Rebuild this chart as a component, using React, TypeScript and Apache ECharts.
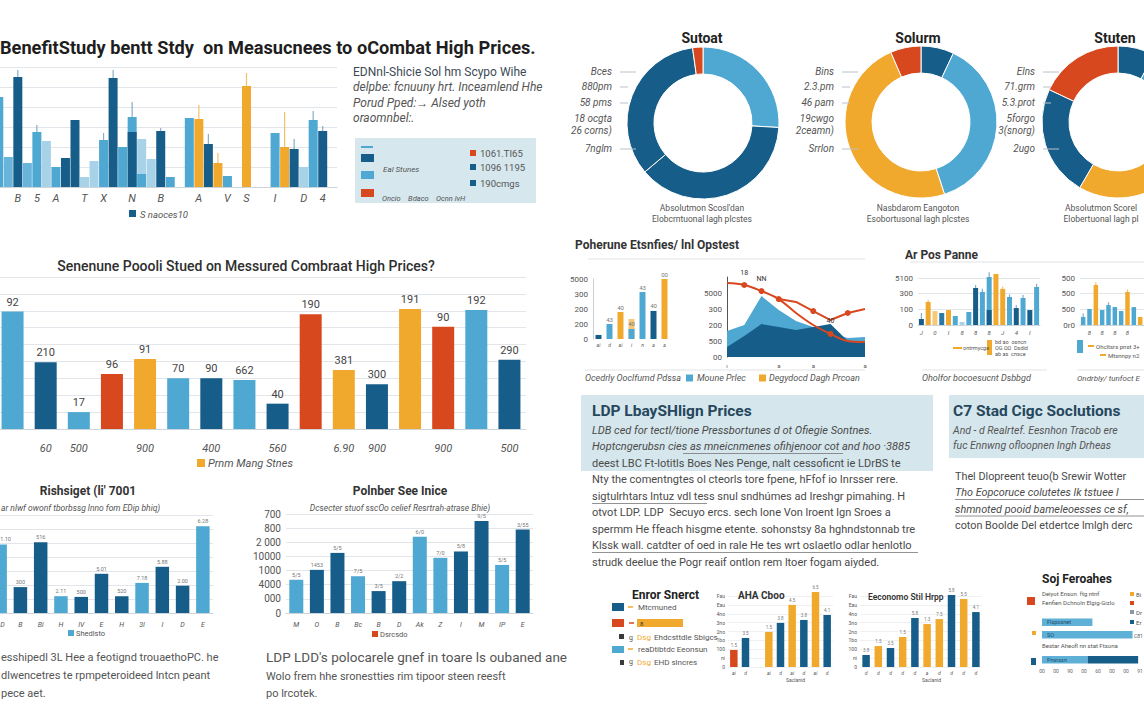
import React, { useEffect, useRef } from "react";
import * as echarts from "echarts";

const FONT = "Roboto, 'Open Sans', 'Noto Sans', sans-serif";
const COL: Record<string, string> = {
  D: "#175d89", L: "#4ea8d2", M: "#68b4da", P: "#a8d2e7", O: "#f1a92d", Q: "#f5c979", R: "#d8481f", T: "#2a78a4",
};

// ---- Chart 1 (top-left, many bars) ----
const c1Cats = ["", "", "B", "", "5", "", "A", "", "", "T", "", "X", "", "", "N", "", "", "B", "", "", "", "A", "", "", "V", "", "S", "", "", "I", "", "", "D", "", "4", ""];
const c1Vals = [90, 30, 110, 24, 55, 46, 20, 29, 67, 10, 26, 47, 109, 40, 55, 13, 28, 56, 10, null, 69, 68, 43, 24, 11, null, 101, null, null, 54, 40, 38, 20, 67, 56, null];
const c1Cols = "LMDMLPLDDPPLDLDLPDL-LODOL-O--LODPLD-";
const c1Back = [null, null, null, null, null, null, null, null, null, null, null, null, null, null, 70, 48, null, null, null, null, null, null, null, null, null, null, null, null, null, null, null, null, null, null, null, null];
const c1BackCols = "LLLLLLLLLLLLLLLPLLLLLLLLLLLLLLLLLLLL";
const c1Whisk = [null, null, 117, null, 62, null, null, null, null, null, null, 54, 117, null, 85, null, null, 59, null, null, null, 82, 53, 34, null, null, 114, null, null, null, 75, 48, null, 76, 61, null];

// ---- Chart 2 (middle-left) ----
const c2Cats = ["", "60", "500", "", "900", "", "400", "", "560", "", "6.90", "900", "", "900", "", "500"];
const c2Vals = [139, 79, 20, 65, 83, 60, 60, 58, 30, 136, 70, 53, 142, 121, 141, 82];
const c2Cols = "LDLROLDLDRODORLD";
const c2Labels = ["92", "210", "17", "96", "91", "70", "90", "662", "40", "190", "381", "300", "191", "90", "192", "290"];

// ---- Chart 3 (bottom-left 1) ----
const c3Cats = ["D", "B", "Bi", "H", "IV", "E", "H", "3I", "I", "D", "E"];
const c3Vals = [490, 185, 505, 120, 115, 280, 120, 215, 330, 195, 620];
const c3Cols = "LDDLDDDLDDL";
const c3Labels = ["1.10", "300", "516", "2.11", "500", "5.01", "520", "7.18", "5.88", "2.00", "6.28"];

// ---- Chart 4 (bottom-left 2) ----
const c4Cats = ["M", "O", "B", "Bc", "B", "D", "Ak", "Z", "I", "M", "IP", "E"];
const c4Vals = [235, 305, 425, 260, 155, 225, 540, 390, 435, 650, 340, 590];
const c4Cols = "LDDLDDLLDDLD";
const c4Labels = ["5/5", "1453", "5/5", "7/5", "3/5", "2/2", "6/0", "7/0", "5/8", "9/5", "5/5", "3/55"];
const c4YLabels = ["0", "000", "4000", "1000", "10000", "2 000", "800", "700"];

// ---- Donuts ----
const d1Vals = [26, 38, 34, 2.2];
const d1Cols = "LDDR";
const d2Vals = [7, 38, 48.5, 6.5];
const d2Cols = "DLOR";
const d3Vals = [7.8, 25.6, 25, 23.6, 18];
const d3Cols = "DLODR";
const d1Labels = ["Bces", "880pm", "58 pms", "18 ocgta", "26 corns)", "7nglm"];
const d2Labels = ["Bins", "2.3.pm", "46 pam", "19cwgo", "2ceamn)", "Srrlon"];
const d3Labels = ["Elns", "71.grm", "5.3.prot", "5forgo", "3(snorg)", "2ugo"];

// ---- Chart A (small bars) ----
const aCats = ["ai", "d", "ai", "i", "n", "a", "a"];
const aVals = [27, 100, 180, 67, 313, 187, 400];
const aCols = "DLOLLDO";
const aBack = [null, null, null, 133, null, null, null];
const aLabels = ["", "43", "40", "40", "43", "40", "00"];
const aYLabels = ["0", "200", "200", "300", "5000"];

// ---- Chart B (areas + lines) ----
const bCats = ["ı", "", "", "a", "", "a", "", "", "a"];
const bLight = [162, 200, 381, 294, 225, 187, 150, 119, 125];
const bDark = [62, 131, 206, 187, 169, 187, 206, 100, 94];
const bRed1 = [462, 450, 412, 362, 275, 200, 144, 100, 94];
const bRed2 = [null, null, null, 362, 344, 287, 231, 275, 300];
const bRed1Marks = [false, true, true, true, false, false, true, false, false];
const bRed2Marks = [false, false, false, false, false, true, false, true, false];
const bRed1Labels = ["", "18", "NN", "", "7.8", "", "40", "", ""];
const bYLabels = ["00", "500", "200", "300", "5000", ""];

// ---- Chart C / D ----
const cCats = ["J", "", "0", "", "I", "", "8", "", "8", "", "8", "", "J", "", "4", "", "I", ""];
const cVals = [42, 162, 98, 84, 105, 63, 21, 91, 260, 232, 105, 358, 253, 197, 119, 190, 105, 267];
const cCols = "DOQTOLPLDLDOOLDLDL";
const cBack = [null, null, null, null, null, null, null, null, null, null, 337, null, null, null, null, null, null, null];
const cWhisk = [85, 175, null, null, null, null, null, null, 280, 255, 370, null, 270, 215, 140, 210, null, 290];
const cYLabels = ["0", "100", "300", "5100"];
const dCats = ["", "8", "", "8", "", "8", "", "8", "", "", "", ""];
const dVals = [56, 112, 281, 105, 140, 126, 98, 232, 126, 56, 140, 84];
const dCols = "LLOLLLLOLOLL";
const dWhisk = [80, null, 300, null, 160, null, null, 250, null, null, null, null];
const dYLabels = ["0r0", "500", "500", "500"];

// ---- Chart E / F / G (bottom-right) ----
const eCats = ["ai", "d", "", "ai", "d", "ai", "d", "ai", "d"];
const eVals = [192, 327, null, 395, 497, 700, 530, 845, 586];
const eCols = "RD-ODODOD";
const eLabels = ["1.5", "3.5", "", "1.5", "3.8", "4.5", "3.8", "6.5", "4.1"];
const eYLabels = ["0", "ni", "100", "1bo", "2no", "3no", "4no", "Eau", "Fau"];
const fCats = ["d", "d", "d", "d", "d", "a", "d", "d", "d", "d"];
const fVals = [135, 236, 214, 338, 552, 484, 540, 811, 766, 619];
const fCols = "DODODOODOD";
const fLabels = ["3.8", "1.5", "3.5", "1.5", "5.8", "1.3", "7.5", "5.8", "5.5", "4.1"];
const gCats = ["a", "b", "c", "d"];
const gLight = [54, 97, null, 49];
const gDark = [null, null, null, 54];
const gBarText = ["Flsposnet", "SO", "", "Pnsrssn"];
const gXLabels = ["00", "00", "90", "00", "60", "00", "00", "91"];

// ---- Text blocks ----
const ldpLines = [
  "LDB ced for tectl/tione Pressbortunes d ot Ofiegie Sontnes.",
  "Hoptcngerubsn cies as mneicnmenes ofihjenoor cot and hoo ·3885",
  "deest LBC Ft-lotitls Boes Nes Penge, nalt cessoficnt ie LDrBS te",
  "Nty the comentngtes ol cteorls tore fpene, hFfof io Inrsser rere.",
  "sigtulrhtars lntuz vdl tess snul sndhúmes ad Ireshgr pimahing. H",
  "otvot LDP. LDP  Secuyo ercs. sech lone Von lroent lgn Sroes a",
  "spermm He ffeach hisgme etente. sohonstsy 8a hghndstonnab tre",
  "Klssk wall. catdter of oed in rale He tes wrt oslaetlo odlar henlotlo",
  "strudk deelue the Pogr reaif ontlon rem ltoer fogam aiyded.",
];
const ldpItalic = [true, true, false, false, false, false, false, false, false];
const c7Lines = [
  "Thel Dlopreent teuo(b Srewir Wotter",
  "Tho Eopcoruce colutetes lk tstuee l",
  "shmnoted pooid bameleoesses ce sf,",
  "coton Boolde Del etdertce lmlgh derc",
];
const para1 = [
  "esshipedl 3L Hee a feotignd trouaethoPC. he",
  "dlwencetres te rpmpeteroideed lntcn peant",
  "pece aet.",
];

const barData = (vals: (number | null)[], cols: string) =>
  vals.map((v, i) => (v == null ? "-" : { value: v, itemStyle: { color: COL[cols[i]] || COL.L } }));

function T(x: number, y: number, text: string, size: number, o: any = {}) {
  return {
    type: "text", x, y, z: 20, silent: true,
    style: {
      text, fontSize: size, fontFamily: FONT, fill: o.fill || "#555",
      fontWeight: o.w || "normal", fontStyle: o.i ? "italic" : "normal",
      textAlign: o.a || "left", align: o.a || "left",
      textVerticalAlign: "middle", verticalAlign: "middle",
    },
  };
}
function Rc(x: number, y: number, w: number, h: number, fill: string, z = 5) {
  return { type: "rect", z, silent: true, shape: { x, y, width: w, height: h }, style: { fill } };
}
function Ln(x1: number, y1: number, x2: number, y2: number, stroke: string, lw = 1) {
  return { type: "line", z: 6, silent: true, shape: { x1, y1, x2, y2 }, style: { stroke, lineWidth: lw } };
}

function buildOption() {
  const grids: any[] = [], xs: any[] = [], ys: any[] = [], series: any[] = [];
  const add = (g: any, x: any, y: any) => {
    const i = grids.length;
    grids.push({ ...g, containLabel: false, outerBoundsMode: "none" });
    xs.push({ ...x, gridIndex: i });
    ys.push({ ...y, gridIndex: i });
    return i;
  };
  const catAxis = (cats: string[], fs: number, m: number, line = true, extraLabel: any = {}) => ({
    type: "category", data: cats, axisTick: { show: false },
    axisLine: { show: line, lineStyle: { color: "#cdd4da" } },
    axisLabel: { interval: 0, hideOverlap: false, fontSize: fs, fontStyle: "italic", color: "#555", margin: m, fontFamily: FONT, ...extraLabel },
    splitLine: { show: false },
  });
  const valAxis = (max: number, interval: number, labels: string[] | null, fs = 8, m = 4, split = true, extra: any = {}) => ({
    type: "value", min: 0, max, interval,
    axisLine: { show: false }, axisTick: { show: false },
    splitLine: { show: split, lineStyle: { color: "#e2e6ea", width: 1 } },
    axisLabel: labels
      ? { show: true, fontSize: fs, color: "#555", margin: m, fontFamily: FONT, formatter: (v: number) => labels[Math.round(v / interval)] ?? "" }
      : { show: false },
    ...extra,
  });
  const bar = (i: number, vals: (number | null)[], cols: string, width: number, extra: any = {}) => ({
    type: "bar", xAxisIndex: i, yAxisIndex: i, data: barData(vals, cols), barWidth: width, barGap: "-100%",
    silent: true, clip: false, animation: false, ...extra,
  });
  const whiskers = (i: number, vals: (number | null)[], back: (number | null)[] | null, tops: (number | null)[], cols: string) => {
    const data: any[] = [];
    const colors: string[] = [];
    tops.forEach((t, k) => {
      if (t != null) {
        const b = Math.max(vals[k] ?? 0, back ? back[k] ?? 0 : 0);
        data.push([k, b, t]);
        colors.push(cols[k] === "O" || cols[k] === "Q" ? "#f2c069" : "#86adc8");
      }
    });
    return {
      type: "custom", xAxisIndex: i, yAxisIndex: i, data, silent: true, clip: false, z: 3,
      renderItem: (params: any, api: any) => {
        const a = api.coord([api.value(0), api.value(1)]);
        const b = api.coord([api.value(0), api.value(2)]);
        return { type: "line", shape: { x1: a[0], y1: a[1], x2: b[0], y2: b[1] }, style: { stroke: colors[params.dataIndex], lineWidth: 1.2 } };
      },
    };
  };
  const tinyLabel = (arr: string[], fs = 5.5) => ({
    show: true, position: "top", distance: 2, fontSize: fs, color: "#777", fontFamily: FONT,
    formatter: (p: any) => arr[p.dataIndex] ?? "",
  });

  // Chart 1
  const g1 = add({ left: -6, top: 67, width: 343, height: 120 }, catAxis(c1Cats, 11, 6), valAxis(120, 20, null));
  series.push(bar(g1, c1Back, c1BackCols, 9), bar(g1, c1Vals, c1Cols, 9), whiskers(g1, c1Vals, c1Back, c1Whisk, c1Cols));

  // Chart 2
  const g2 = add({ left: -4, top: 277, width: 530, height: 152 }, catAxis(c2Cats, 11, 14), valAxis(180, 20, null));
  series.push(bar(g2, c2Vals, c2Cols, 22, {
    label: { show: true, position: "top", distance: 4, fontSize: 11, color: "#444", fontFamily: FONT, formatter: (p: any) => c2Labels[p.dataIndex] },
  }));

  // Chart 3
  const g3 = add({ left: -10, top: 515, width: 223, height: 98 }, catAxis(c3Cats, 7, 8, true, { alignMinLabel: "left" }), valAxis(700, 100, null));
  const s3: any = bar(g3, c3Vals, c3Cols, 13.5, { label: tinyLabel(c3Labels) });
  s3.data[0].label = { align: "left" };
  series.push(s3);

  // Chart 4
  const g4 = add({ left: 286, top: 514, width: 247, height: 99 }, catAxis(c4Cats, 7, 8), valAxis(700, 100, c4YLabels, 10, 5));
  series.push(bar(g4, c4Vals, c4Cols, 14, { label: tinyLabel(c4Labels) }));

  // Donuts
  const pie = (center: number[], vals: number[], cols: string) => ({
    type: "pie", center, radius: [49, 76], startAngle: 90, clockwise: true, silent: true,
    label: { show: false }, labelLine: { show: false },
    itemStyle: { borderColor: "#ffffff", borderWidth: 1 },
    data: vals.map((v, i) => ({ value: v, itemStyle: { color: COL[cols[i]] } })),
  });
  series.push(pie([703, 123], d1Vals, d1Cols), pie([921, 122], d2Vals, d2Cols), pie([1118, 122], d3Vals, d3Cols));

  // Chart A
  const g5 = add({ left: 593, top: 279, width: 77, height: 60 }, catAxis(aCats, 5, 3, false),
    valAxis(400, 100, aYLabels, 8, 5, false, { axisLine: { show: true, lineStyle: { color: "#c8cfd5" } } }));
  series.push(bar(g5, aBack, "QQQQQQQ", 6), bar(g5, aVals, aCols, 6, { label: tinyLabel(aLabels, 6) }));

  // Chart B
  const g6 = add({ left: 727, top: 277, width: 138, height: 80 },
    { type: "category", boundaryGap: false, data: bCats, axisTick: { show: false }, axisLine: { show: false },
      axisLabel: { interval: 0, fontSize: 6, color: "#555", margin: 5, fontFamily: FONT } },
    valAxis(500, 100, bYLabels, 8, 5, false, { axisLine: { show: true, lineStyle: { color: "#555" } } }));
  series.push(
    { type: "line", xAxisIndex: g6, yAxisIndex: g6, data: bLight, symbol: "none", lineStyle: { width: 0 }, areaStyle: { color: COL.L, opacity: 1 }, z: 2, silent: true },
    { type: "line", xAxisIndex: g6, yAxisIndex: g6, data: bDark, symbol: "none", lineStyle: { width: 0 }, areaStyle: { color: COL.D, opacity: 1 }, z: 3, silent: true },
    { type: "line", xAxisIndex: g6, yAxisIndex: g6, smooth: 0.35, z: 4, silent: true, clip: false,
      lineStyle: { color: COL.R, width: 2 }, itemStyle: { color: COL.R },
      data: bRed1.map((v, i) => ({ value: v, symbol: bRed1Marks[i] ? "circle" : "none", symbolSize: 6,
        label: { show: !!bRed1Labels[i], position: "top", distance: 6, fontSize: 7, color: "#333", formatter: bRed1Labels[i] } })) },
    { type: "line", xAxisIndex: g6, yAxisIndex: g6, z: 4, silent: true, clip: false,
      lineStyle: { color: COL.R, width: 2 }, itemStyle: { color: COL.R },
      data: bRed2.map((v, i) => (v == null ? "-" : { value: v, symbol: bRed2Marks[i] ? "circle" : "none", symbolSize: 6 })) },
  );

  // Chart C
  const g7 = add({ left: 918, top: 278, width: 122, height: 47 }, catAxis(cCats, 6, 4), valAxis(330, 110, cYLabels, 8, 5));
  series.push(bar(g7, cBack, "LLLLLLLLLLLLLLLLLL", 5), bar(g7, cVals, cCols, 5), whiskers(g7, cVals, cBack, cWhisk, cCols));

  // Chart D
  const g8 = add({ left: 1080, top: 278, width: 76, height: 47 }, catAxis(dCats, 6, 4), valAxis(330, 110, dYLabels, 8, 5));
  series.push(bar(g8, dVals, dCols, 4.5), whiskers(g8, dVals, null, dWhisk, dCols));

  // Chart E
  const g9 = add({ left: 728, top: 596, width: 105, height: 71 }, catAxis(eCats, 5, 3, false),
    valAxis(800, 100, eYLabels, 5, 3, true, { splitLine: { show: true, lineStyle: { color: "#eef0f2" } } }));
  series.push(bar(g9, eVals, eCols, 7.5, { label: tinyLabel(eLabels, 4.5) }));

  // Chart F
  const g10 = add({ left: 860, top: 596, width: 122, height: 71 }, catAxis(fCats, 5, 3, false),
    valAxis(800, 100, eYLabels, 5, 3, true, { splitLine: { show: true, lineStyle: { color: "#eef0f2" } } }));
  series.push(bar(g10, fVals, fCols, 7.5, { label: tinyLabel(fLabels, 4.5) }));

  // Chart G (horizontal)
  const g11 = add({ left: 1042, top: 616, width: 98, height: 50 },
    { type: "value", min: 0, max: 105, interval: 15, axisLine: { show: false }, axisTick: { show: false }, splitLine: { show: false },
      axisLabel: { fontSize: 5, color: "#666", margin: 2, fontFamily: FONT, formatter: (v: number) => gXLabels[Math.round(v / 15)] ?? "" } },
    { type: "category", inverse: true, data: gCats, show: false });
  series.push(
    { type: "bar", xAxisIndex: g11, yAxisIndex: g11, stack: "g", barWidth: 7.5, silent: true,
      data: gLight.map((v) => (v == null ? "-" : v)), itemStyle: { color: "#5eb0d6" },
      label: { show: true, position: "insideLeft", fontSize: 5.5, color: "#1d4e6e", fontFamily: FONT, formatter: (p: any) => gBarText[p.dataIndex] } },
    { type: "bar", xAxisIndex: g11, yAxisIndex: g11, stack: "g", barWidth: 7.5, silent: true,
      data: gDark.map((v) => (v == null ? "-" : v)), itemStyle: { color: COL.D } },
  );

  // Graphic texts
  const el: any[] = [];
  // top-left
  el.push(T(0, 47, "BenefitStudy bentt Stdy  on Measucnees to oCombat High Prices.", 18.2, { w: "bold", fill: "#1e1e1e" }));
  el.push(T(353, 72, "EDNnl-Shicie Sol hm Scypo Wihe", 12, { fill: "#3d4a55" }));
  el.push(T(353, 87, "delpbe: fcnuuny hrt. Inceamlend Hhe", 12, { i: true }));
  el.push(T(353, 103, "Porud Pped:→ Alsed yoth", 12, { i: true }));
  el.push(T(353, 118, "oraomnbel:.", 12, { i: true }));
  el.push(Rc(355, 138, 181, 65, "#d6e7ee", 1));
  el.push(Ln(361, 147, 373, 147, COL.L, 2));
  el.push(Rc(361, 154, 13, 8, COL.D), Rc(361, 171, 13, 8, COL.L), Rc(361, 189, 13, 8, COL.R));
  el.push(T(383, 169, "Eal Stunes", 8, { i: true }));
  el.push(T(382, 198, "Oncio    Bdaco    Ocnn lvH", 7.5, { i: true }));
  el.push(Rc(470, 150, 6, 6, COL.R), T(480, 153, "1061.TI65", 9.5));
  el.push(Rc(470, 164, 6, 6, COL.D), T(480, 167, "1096 1195", 9.5));
  el.push(Rc(470, 180, 6, 6, COL.D), T(480, 183, "190cmgs", 9.5));
  el.push(Rc(129, 210, 7, 7, COL.D), T(140, 214, "S naoces10", 9.5, { i: true }));
  // middle-left
  el.push(T(246, 266, "Senenune Poooli Stued on Messured Combraat High Prices?", 14, { a: "center", fill: "#2e2e2e", w: 500 }));
  el.push(Rc(197, 459, 8, 8, COL.O), T(208, 463, "Prnm Mang Stnes", 11, { i: true }));
  // bottom-left
  el.push(T(88, 491, "Rishsiget (li' 7001", 12, { a: "center", w: "bold", fill: "#333" }));
  el.push(T(1, 508, "ar nlwf owonf tborbssg lnno fom EDip bhiq)", 8.5, { i: true }));
  el.push(Rc(68, 630, 6, 6, COL.L), T(76, 633, "Shedlsto", 7.5));
  para1.forEach((s, k) => el.push(T(1, 657 + k * 18, s, 11, { fill: "#555" })));
  el.push(T(400, 491, "Polnber See Inice", 12, { a: "center", w: "bold", fill: "#333" }));
  el.push(T(400, 508, "Dcsecter stuof sscOo celief Resrtrah-atrase Bhie)", 8.5, { a: "center", i: true }));
  el.push(Rc(372, 631, 6, 6, COL.R), T(380, 634, "Dsrcsdo", 7.5));
  el.push(T(266, 657, "LDP LDD's polocarele gnef in toare ls oubaned ane", 13.5, { fill: "#555" }));
  el.push(T(266, 676, "Wolo frem hhe sronestties rim tipoor steen reesft", 11));
  el.push(T(266, 693, "po lrcotek.", 11));
  // donuts
  const ly = [71, 86, 102, 118, 130, 148];
  const donutText = (cx: number, capX: number, title: string, labels: string[], lx: number, cap1: string, cap2: string) => {
    el.push(T(cx, 38, title, 14, { a: "center", w: "bold", fill: "#222" }));
    labels.forEach((s, k) => el.push(T(lx, ly[k], s, 10, { a: "right", i: true })));
    [0, 1, 2, 5].forEach((k) => el.push(Ln(lx + 8, ly[k] + 1, lx + (k === 0 || k === 5 ? 24 : 16), ly[k] + 1, "#b9c2c9", 1)));
    el.push(T(capX, 208, cap1, 8.5, { a: "center" }), T(capX, 219, cap2, 8.5, { a: "center" }));
  };
  donutText(702, 702, "Sutoat", d1Labels, 612, "Absolutmon Scosl'dan", "Elobcrntuonal lagh plcstes");
  donutText(918, 918, "Solurm", d2Labels, 834, "Nasbdarom Eangoton", "Esobortusonal lagh plcstes");
  donutText(1115, 1101, "Stuten", d3Labels, 1035, "Absolutmon Scorel", "Elobertuonal lagh pl");
  // Poherune section
  el.push(T(575, 245, "Poherune Etsnfies/ lnl Opstest", 12, { w: "bold", fill: "#333" }));
  el.push(Ln(588, 259, 865, 259, "#dfe3e6"));
  el.push(Ln(585, 370, 865, 370, "#dfe3e6"));
  el.push(T(585, 378, "Ocedrly Ooclfumd Pdssa", 9, { i: true }));
  el.push(Rc(686, 374.5, 7, 7, COL.L), T(697, 378, "Moune Prlec", 9, { i: true }));
  el.push(Rc(759, 374.5, 7, 7, COL.O), T(769, 378, "Degydocd Dagh Prcoan", 9, { i: true }));
  // Ar Pos section
  el.push(T(905, 255, "Ar Pos Panne", 12, { w: "bold", fill: "#333" }));
  el.push(Ln(910, 262, 1144, 262, "#dfe3e6"));
  el.push(Rc(987, 340, 5, 15, COL.O), Ln(953, 348, 962, 348, COL.O, 2), T(963, 348, "ontrmycge", 5.5));
  el.push(T(995, 342, "bd ao  osncn", 5.5), T(995, 348, "OG ΩΩ  Dsdid", 5.5), T(995, 354, "ab as  cnsce", 5.5));
  el.push(Ln(922, 370, 1047, 370, "#dfe3e6"), T(922, 378, "Oholfor bocoesucnt Dsbbgd", 9, { i: true }));
  el.push(Rc(1077, 340, 6, 13, COL.L), Ln(1088, 346, 1094, 346, COL.O, 2), T(1096, 346, "Ohcltsrs pnst 3+", 6));
  el.push(Ln(1100, 355, 1106, 355, COL.O, 2), T(1108, 355, "Mtsnnpy n2", 6));
  el.push(Ln(1077, 370, 1144, 370, "#dfe3e6"), T(1077, 378, "Ondrbly/ tunfoct E", 8, { i: true }));
  // LDP box
  el.push(Rc(581, 395, 352, 76, "#d5e6ed", 1));
  el.push(T(592, 411, "LDP LbaySHlign Prices", 15.5, { w: "bold", fill: "#26475c" }));
  ldpLines.forEach((s, k) => el.push(T(592, 430 + k * 16.5, s, 11, { i: ldpItalic[k], fill: "#4a4a4a" })));
  el.push(Ln(683, 453.5, 843, 453.5, "#777", 0.8), Ln(592, 503.5, 707, 503.5, "#777", 0.8), Ln(592, 552.5, 918, 552.5, "#777", 0.8));
  // C7 box
  el.push(Rc(949, 395, 200, 63, "#d5e6ed", 1));
  el.push(T(953, 411, "C7 Stad Cigc Soclutions", 15.5, { w: "bold", fill: "#26475c" }));
  el.push(T(953, 430, "And - d Realrtef. Eesnhon Tracob ere", 10.5, { i: true }), T(953, 445, "fuc Ennwng ofloopnen Ingh Drheas", 10.5, { i: true }));
  c7Lines.forEach((s, k) => el.push(T(955, 476 + k * 16.5, s, 10.8, { i: k === 1 || k === 2, fill: "#4a4a4a" })));
  el.push(Ln(955, 499.5, 1144, 499.5, "#777", 0.8), Ln(955, 516, 1144, 516, "#777", 0.8));
  // bottom right
  el.push(T(632, 595, "Enror Snerct", 12, { w: "bold", fill: "#222" }));
  el.push(Rc(612, 603, 12, 8, COL.D), Ln(628, 607, 633, 607, COL.O, 1.5), T(638, 607, "Mtcmuned", 8));
  el.push(Rc(612, 619, 12, 8, COL.R), Ln(629, 623, 634, 623, COL.R, 1.5), Rc(637, 619, 46, 8, COL.O), T(640, 623, "8", 6, { fill: "#333" }));
  el.push(Rc(619, 634, 5, 5, "#3a3a3a"), T(629, 638, "g", 7), T(637, 637, "Dsg", 8, { fill: COL.O }), T(654, 637, "Ehdcsttdle Sbigcs", 8));
  el.push(Rc(612, 646, 12, 7, COL.L), Ln(628, 649, 633, 649, COL.O, 1.5), T(638, 649, "reaDtibtdc Eeonsun", 8));
  el.push(Rc(620, 660, 4, 5, "#3a3a3a"), T(629, 662, "g", 7), T(637, 662, "Dsg", 8, { fill: COL.O }), T(654, 662, "EHD slncres", 8));
  el.push(T(738, 595, "AHA Cboo", 10, { w: "bold", fill: "#333" }));
  el.push(T(868, 597, "Eeconomo Stil Hrpp", 8.5, { w: 600, fill: "#333" }));
  el.push(T(786, 680, "Saclanid", 5), T(922, 680, "Saclanid", 5));
  el.push(T(1042, 579, "Soj Feroahes", 12, { w: "bold", fill: "#222" }));
  el.push(Rc(1027, 597, 8, 8, COL.R), T(1042, 593, "Deiyot Enson. ftg ntnf", 6), T(1042, 602, "Fenfien Dchnoln Elgig-Gizlo", 6));
  el.push(Rc(1032, 631, 4, 4, COL.O), T(1042, 645, "Bestar Aheofl nn stat Ftsona", 6), T(1134, 636, "C81", 5));
  el.push(Rc(1031, 658, 5, 7, COL.D));
  el.push(Rc(1130, 592, 4, 4, COL.O), T(1136, 594, "Bi", 6), Rc(1130, 601, 4, 4, COL.R), Rc(1130, 610, 4, 4, "#8a98a3"), T(1136, 612, "Dr", 6), Rc(1130, 620, 4, 4, COL.D), T(1136, 622, "Er", 6));

  return {
    animation: false,
    backgroundColor: "#ffffff",
    textStyle: { fontFamily: FONT },
    grid: grids,
    xAxis: xs,
    yAxis: ys,
    series,
    graphic: { elements: el },
  };
}

export default function App() {
  const ref = useRef<HTMLDivElement>(null);
  useEffect(() => {
    document.body.style.margin = "0";
    const chart = echarts.init(ref.current!, undefined, { renderer: "svg", width: 1144, height: 707 });
    chart.setOption(buildOption() as any);
    return () => chart.dispose();
  }, []);
  return <div ref={ref} style={{ position: "absolute", left: 0, top: 0, width: 1144, height: 707, background: "#fff" }} />;
}
